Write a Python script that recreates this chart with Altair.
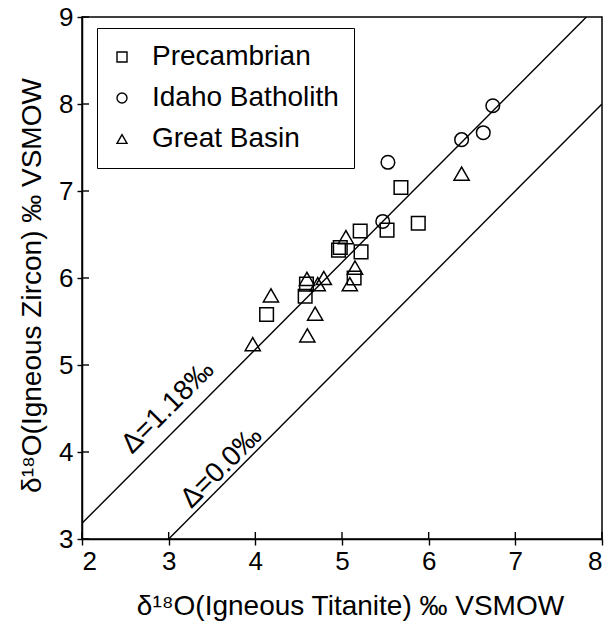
import altair as alt
import pandas as pd

# ---- data ----
pre_x = [5.68, 5.21, 5.52, 5.88, 4.96, 4.98, 5.22, 5.14, 4.59, 4.575, 4.13]
pre_y = [7.04, 6.54, 6.55, 6.63, 6.32, 6.35, 6.30, 6.00, 5.93, 5.79, 5.58]

ida_x = [6.74, 6.38, 6.63, 5.47, 5.53]
ida_y = [7.98, 7.59, 7.67, 6.65, 7.33]

gb_x = [6.38, 5.045, 5.15, 5.09, 4.595, 4.79, 4.72, 4.18, 4.69, 4.60, 3.97]
gb_y = [7.20, 6.47, 6.12, 5.93, 5.99, 6.00, 5.93, 5.80, 5.59, 5.34, 5.24]

groups = ["Precambrian", "Idaho Batholith", "Great Basin"]
shapes = ["square", "circle", "triangle-up"]

# reference lines: Δ = 1.18 ‰ and Δ = 0.0 ‰
line_x = [[2.0, 7.82], [3.0, 8.0]]
line_y = [[3.18, 9.0], [3.0, 8.0]]
line_name = ["d118", "d0"]

ann_text = ["Δ=1.18‰", "Δ=0.0‰"]
ann_x = [2.684, 3.30]
ann_y = [3.864, 3.30]
ann_dy = [-13, -5]

tick_x = [2, 3, 4, 5, 6, 7, 8]
tick_y = [3, 4, 5, 6, 7, 8, 9]

FONT = "Liberation Sans"
W, H = 520, 522

pts = pd.DataFrame(
    {"x": pre_x + ida_x + gb_x,
     "y": pre_y + ida_y + gb_y,
     "g": [groups[0]] * len(pre_x) + [groups[1]] * len(ida_x) + [groups[2]] * len(gb_x)}
)
lines = pd.DataFrame(
    [{"x": xv, "y": yv, "k": n} for xs, ys, n in zip(line_x, line_y, line_name) for xv, yv in zip(xs, ys)]
)
ann = pd.DataFrame({"t": ann_text, "x": ann_x, "y": ann_y})

xs = alt.Scale(domain=[2, 8], nice=False, zero=False)
ys = alt.Scale(domain=[3, 9], nice=False, zero=False)

x_axis = alt.Axis(values=tick_x, title="δ¹⁸O(Igneous Titanite) ‰ VSMOW", format="d",
                  titlePadding=18, titleX=268)
y_axis = alt.Axis(values=tick_y, title="δ¹⁸O(Igneous Zircon) ‰ VSMOW", format="d",
                  titlePadding=12, titleY=268)

line_layer = alt.Chart(lines).mark_line(color="black", strokeWidth=1.4, clip=True).encode(
    x=alt.X("x:Q", scale=xs, axis=x_axis),
    y=alt.Y("y:Q", scale=ys, axis=y_axis),
    detail="k:N",
)

shape_enc = alt.Shape(
    "g:N", scale=alt.Scale(domain=groups, range=shapes),
    legend=alt.Legend(title=None, orient="none", legendX=15, legendY=11,
                      strokeColor="black", padding=15,
                      labelFontSize=28, labelFont=FONT, labelColor="black", labelLimit=400,
                      symbolSize=100, symbolStrokeWidth=1.4, symbolOffset=-4,
                      symbolStrokeColor="black", symbolFillColor="white",
                      rowPadding=13, labelOffset=16, fillColor="white"),
)

sq_ci = pts[pts["g"] != groups[2]]
tri = pts[pts["g"] == groups[2]]

point_a = alt.Chart(sq_ci).mark_point(filled=False, color="black", strokeWidth=1.5,
                                      opacity=1, size=185).encode(
    x=alt.X("x:Q", scale=xs), y=alt.Y("y:Q", scale=ys), shape=shape_enc
)
point_b = alt.Chart(tri).mark_point(filled=False, color="black", strokeWidth=1.5,
                                    opacity=1, size=230).encode(
    x=alt.X("x:Q", scale=xs), y=alt.Y("y:Q", scale=ys), shape=shape_enc
)

ann_layer = alt.layer(*[
    alt.Chart(ann.iloc[[i]]).mark_text(
        align="left", baseline="alphabetic", angle=315, fontSize=28, font=FONT,
        color="black", dy=ann_dy[i]
    ).encode(x=alt.X("x:Q", scale=xs), y=alt.Y("y:Q", scale=ys), text="t:N")
    for i in range(len(ann_text))
])

# inner halves of the crossing ticks
tx = alt.Chart(pd.DataFrame({"v": tick_x})).mark_rule(color="black", strokeWidth=1.4).encode(
    x=alt.X("v:Q", scale=xs), y=alt.value(H), y2=alt.value(H - 7)
)
ty = alt.Chart(pd.DataFrame({"v": tick_y})).mark_rule(color="black", strokeWidth=1.4).encode(
    y=alt.Y("v:Q", scale=ys), x=alt.value(0), x2=alt.value(7)
)

chart = alt.layer(line_layer, tx, ty, ann_layer, point_b, point_a).properties(
    width=W, height=H,
    autosize=alt.AutoSizeParams(type="none"),
    padding={"left": 82, "top": 17, "right": 7, "bottom": 88},
    background="white",
).configure_view(
    stroke="black", strokeWidth=1.5
).configure_axis(
    grid=False, domainColor="black", domainWidth=1.5, tickColor="black", tickWidth=1.4,
    tickSize=5, labelFont=FONT, labelFontSize=26, labelColor="black", labelPadding=4,
    titleFont=FONT, titleFontSize=28, titleFontWeight="normal", titleColor="black",
).configure_axisX(tickSize=6, labelPadding=3)

chart.save("out.html", embed_options={"renderer": "svg", "actions": False})
